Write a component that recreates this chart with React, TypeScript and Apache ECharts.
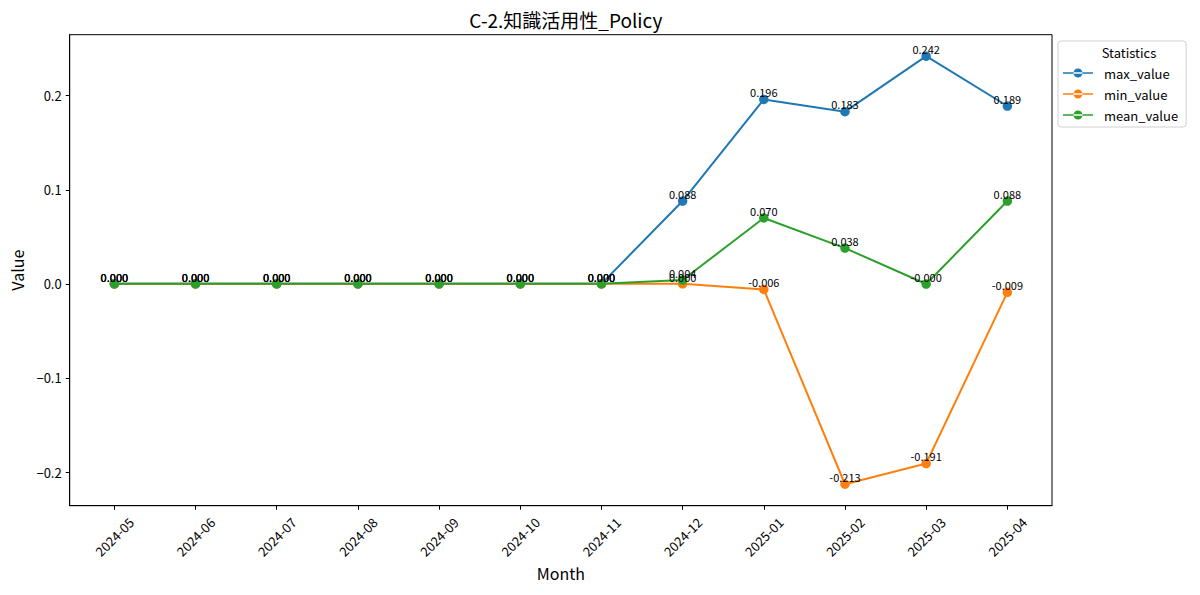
import React, { useEffect, useRef } from 'react';
import * as echarts from 'echarts';

const months = [
  '2024-05', '2024-06', '2024-07', '2024-08', '2024-09', '2024-10',
  '2024-11', '2024-12', '2025-01', '2025-02', '2025-03', '2025-04',
];
const maxValues = [0, 0, 0, 0, 0, 0, 0, 0.088, 0.196, 0.183, 0.242, 0.189];
const minValues = [0, 0, 0, 0, 0, 0, 0, 0, -0.006, -0.213, -0.191, -0.009];
const meanValues = [0, 0, 0, 0, 0, 0, 0, 0.004, 0.07, 0.038, -0.0002, 0.088];
const yTicks = [-0.2, -0.1, 0, 0.1, 0.2];

const FONT = '"Noto Sans CJK JP", "Noto Sans", sans-serif';
const legendIcon =
  'path://M0,4.3h30v1.4h-30z M10.5,5a4.5,4.5 0 1,0 9,0a4.5,4.5 0 1,0 -9,0z';

export default function App() {
  const chartRef = useRef<HTMLDivElement>(null);

  useEffect(() => {
    document.body.style.margin = '0';
    if (!chartRef.current) return;
    const chart = echarts.init(chartRef.current, null, { renderer: 'svg' });

    const makeSeries = (name: string, values: number[], color: string) => ({
      name,
      type: 'line',
      data: values.map((v, i) => [i, v]),
      symbol: 'circle',
      symbolSize: 9.5,
      itemStyle: { color },
      lineStyle: { color, width: 2 },
      label: {
        show: true,
        position: 'top',
        distance: -3,
        color: '#000',
        fontFamily: FONT,
        fontSize: 11,
        formatter: (p: any) => p.value[1].toFixed(3),
      },
    });

    chart.setOption({
      animation: false,
      backgroundColor: '#fff',
      textStyle: { fontFamily: FONT },
      title: [
        {
          text: 'C-2.知識活用性_Policy',
          left: 560.8,
          top: 5,
          textAlign: 'center',
          textStyle: { fontSize: 19, fontWeight: 'normal', color: '#000', fontFamily: FONT },
        },
        {
          text: 'Statistics',
          left: 1124,
          top: 41,
          textAlign: 'center',
          textStyle: { fontSize: 13, fontWeight: 'normal', color: '#000', fontFamily: FONT },
        },
      ],
      legend: {
        orient: 'vertical',
        left: 1058,
        top: 41,
        width: 132,
        padding: [24, 8, 4, 5],
        itemWidth: 30,
        itemHeight: 10,
        itemGap: 5,
        icon: legendIcon,
        borderColor: '#d0d0d0',
        borderWidth: 1,
        borderRadius: 3,
        textStyle: { fontSize: 13, color: '#000', fontFamily: FONT, padding: [0, 0, 0, 6], lineHeight: 16 },
        data: ['max_value', 'min_value', 'mean_value'],
      },
      grid: {
        left: 69.7,
        right: 148,
        top: 34.7,
        bottom: 89.3,
        show: true,
        borderColor: '#000',
        borderWidth: 1,
        containLabel: false,
        outerBoundsMode: 'none',
      },
      xAxis: {
        type: 'value',
        min: -0.55,
        max: 11.55,
        name: 'Month',
        nameLocation: 'middle',
        nameGap: 58,
        nameTextStyle: { fontSize: 16, color: '#000', fontFamily: FONT },
        axisLine: { show: true, onZero: false, lineStyle: { color: '#000', width: 1 } },
        axisTick: { show: true, inside: false, length: 4, customValues: months.map((_, i) => i), lineStyle: { color: '#000' } },
        axisLabel: {
          customValues: months.map((_, i) => i),
          rotate: 45,
          align: 'center',
          verticalAlign: 'middle',
          margin: 31,
          fontSize: 13,
          color: '#000',
          fontFamily: FONT,
          formatter: (v: number) => months[Math.round(v)] ?? '',
        },
        splitLine: { show: false },
      },
      yAxis: {
        type: 'value',
        min: -0.2358,
        max: 0.2648,
        name: 'Value',
        nameLocation: 'middle',
        nameGap: 45,
        nameRotate: 90,
        nameTextStyle: { fontSize: 16, color: '#000', fontFamily: FONT },
        axisLine: { show: true, onZero: false, lineStyle: { color: '#000', width: 1 } },
        axisTick: { show: true, inside: false, length: 4, customValues: yTicks, lineStyle: { color: '#000' } },
        axisLabel: {
          customValues: yTicks,
          margin: 8,
          fontSize: 13,
          color: '#000',
          fontFamily: FONT,
          formatter: (v: number) => v.toFixed(1).replace('-', '\u2212'),
        },
        splitLine: { show: false },
      },
      series: [
        makeSeries('max_value', maxValues, '#1f77b4'),
        makeSeries('min_value', minValues, '#ff7f0e'),
        makeSeries('mean_value', meanValues, '#2ca02c'),
      ],
    });

    return () => {
      chart.dispose();
    };
  }, []);

  return <div ref={chartRef} style={{ width: 1200, height: 595 }} />;
}
